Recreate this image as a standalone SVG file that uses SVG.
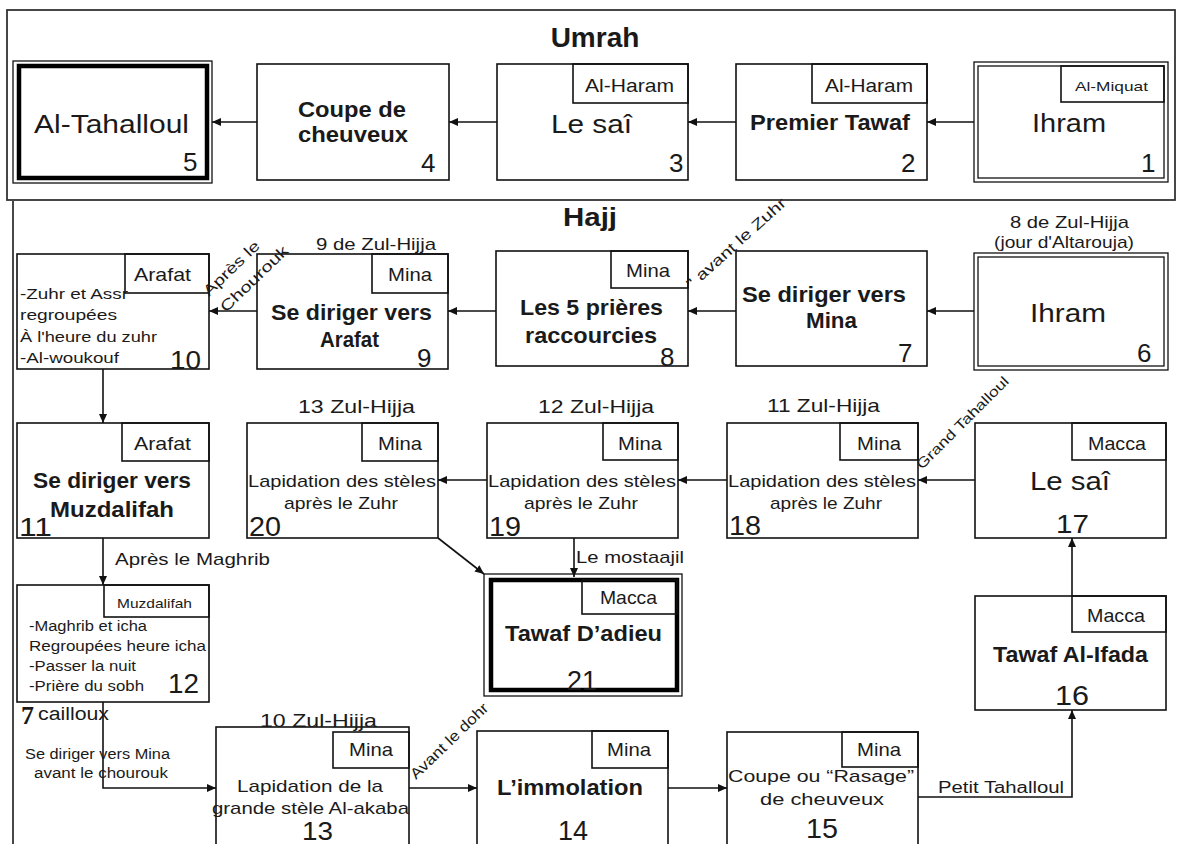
<svg xmlns="http://www.w3.org/2000/svg" width="1182" height="844" viewBox="0 0 1182 844">
<style>
text{font-family:"Liberation Sans",Arial,sans-serif;fill:#1a1a1a}
.box{fill:#fff;stroke:#111;stroke-width:1.6}
.tag{fill:none;stroke:#111;stroke-width:1.6}
.thin{fill:none;stroke:#111;stroke-width:1.3}
.thick{fill:none;stroke:#000;stroke-width:4.5}
.frame{fill:none;stroke:#333;stroke-width:1.8}
.big{font-size:26px}
.b{font-size:22px;font-weight:bold}
.t{font-size:19px}
.n{font-size:26px}
.s{font-size:14px}
.m{font-size:17px}
.conn path{fill:none;stroke:#111;stroke-width:1.6;marker-end:url(#ah)}
</style>
<defs>
<marker id="ah" markerUnits="userSpaceOnUse" markerWidth="9" markerHeight="8" refX="9" refY="4" orient="auto">
<path d="M0,0 L9,4 L0,8 z" fill="#111"/>
</marker>
</defs>
<rect width="1182" height="844" fill="#fff"/>

<g id="frames">
<rect class="frame" x="7" y="10" width="1168" height="190"/>
<path class="frame" d="M13,844 V201"/>
<text x="595" y="47" text-anchor="middle" style="font-size:28px;font-weight:bold">Umrah</text>
<text x="563" y="226" style="font-size:26px;font-weight:bold" textLength="54" lengthAdjust="spacingAndGlyphs">Hajj</text>
</g>

<g class="conn" id="connectors">
<path d="M974,122 H927"/>
<path d="M736,122 H688"/>
<path d="M497,122 H449"/>
<path d="M257,122 H212"/>
<path d="M974,311 H927"/>
<path d="M736,311 H688"/>
<path d="M496,311 H448"/>
<path d="M257,311 H209"/>
<path d="M103,369 V423"/>
<path d="M975,480 H918"/>
<path d="M727,480 H678"/>
<path d="M487,480 H438"/>
<path d="M103,538 V585"/>
<path d="M103,702 V788 H216"/>
<path d="M409,788 H477"/>
<path d="M668,788 H727"/>
<path d="M918,797 H1072 V710"/>
<path d="M1072,596 V538"/>
<path d="M438,538 L484,574"/>
<path d="M574,538 V577"/>
</g>

<!-- Umrah -->
<g id="n5">
<rect class="thin" x="13" y="61" width="199" height="122" fill="#fff"/>
<rect class="thick" x="19" y="66" width="188" height="112"/>
<text class="big" x="34" y="133" textLength="155" lengthAdjust="spacingAndGlyphs">Al-Tahalloul</text>
<text class="n" x="183" y="171">5</text>
</g>
<g id="n4">
<rect class="box" x="257" y="64" width="192" height="116"/>
<text class="b" x="298" y="117" textLength="108" lengthAdjust="spacingAndGlyphs">Coupe de</text>
<text class="b" x="298" y="142" textLength="110" lengthAdjust="spacingAndGlyphs">cheuveux</text>
<text class="n" x="421" y="172">4</text>
</g>
<g id="n3">
<rect class="box" x="497" y="64" width="191" height="116"/>
<rect class="tag" x="573" y="64" width="115" height="39"/>
<text class="t" x="585" y="92" textLength="89" lengthAdjust="spacingAndGlyphs">Al-Haram</text>
<text class="big" x="551" y="133" textLength="81" lengthAdjust="spacingAndGlyphs">Le saî</text>
<text class="n" x="669" y="172">3</text>
</g>
<g id="n2">
<rect class="box" x="736" y="64" width="191" height="116"/>
<rect class="tag" x="812" y="64" width="115" height="39"/>
<text class="t" x="825" y="92" textLength="88" lengthAdjust="spacingAndGlyphs">Al-Haram</text>
<text class="b" x="750" y="130" textLength="160" lengthAdjust="spacingAndGlyphs">Premier Tawaf</text>
<text class="n" x="901" y="172">2</text>
</g>
<g id="n1">
<rect class="thin" x="974" y="62" width="194" height="120" fill="#fff"/>
<rect class="thin" x="978" y="66" width="186" height="112"/>
<rect class="tag" x="1061" y="66" width="103" height="36"/>
<text x="1075" y="91" style="font-size:13px" textLength="73" lengthAdjust="spacingAndGlyphs">Al-Miquat</text>
<text class="big" x="1032" y="132" textLength="74" lengthAdjust="spacingAndGlyphs">Ihram</text>
<text class="n" x="1141" y="172">1</text>
</g>

<!-- Hajj row 1 -->
<g id="n6">
<text class="m" x="1010" y="228" textLength="119" lengthAdjust="spacingAndGlyphs">8 de Zul-Hijja</text>
<text class="m" x="994" y="248" textLength="140" lengthAdjust="spacingAndGlyphs">(jour d'Altarouja)</text>
<rect class="thin" x="974" y="253" width="194" height="117" fill="#fff"/>
<rect class="thin" x="978" y="257" width="186" height="109"/>
<text class="big" x="1030" y="322" textLength="76" lengthAdjust="spacingAndGlyphs">Ihram</text>
<text class="n" x="1137" y="362">6</text>
</g>
<g id="n7">
<rect class="box" x="736" y="251" width="191" height="115"/>
<text class="b" x="742" y="302" textLength="164" lengthAdjust="spacingAndGlyphs">Se diriger vers</text>
<text class="b" x="806" y="328" textLength="51" lengthAdjust="spacingAndGlyphs">Mina</text>
<text class="n" x="898" y="362">7</text>
</g>
<g id="n8">
<rect class="box" x="496" y="251" width="192" height="115"/>
<rect class="tag" x="611" y="251" width="77" height="37"/>
<text class="t" x="626" y="277" textLength="44" lengthAdjust="spacingAndGlyphs">Mina</text>
<text class="b" x="520" y="315" textLength="143" lengthAdjust="spacingAndGlyphs">Les 5 prières</text>
<text class="b" x="525" y="343" textLength="132" lengthAdjust="spacingAndGlyphs">raccourcies</text>
<text class="n" x="660" y="366">8</text>
</g>
<g id="n9">
<text class="m" x="316" y="250" textLength="120" lengthAdjust="spacingAndGlyphs">9 de Zul-Hijja</text>
<rect class="box" x="257" y="254" width="191" height="115"/>
<rect class="tag" x="372" y="254" width="76" height="39"/>
<text class="t" x="388" y="281" textLength="44" lengthAdjust="spacingAndGlyphs">Mina</text>
<text class="b" x="271" y="320" textLength="161" lengthAdjust="spacingAndGlyphs">Se diriger vers</text>
<text class="b" x="320" y="347" textLength="59" lengthAdjust="spacingAndGlyphs">Arafat</text>
<text class="n" x="417" y="367">9</text>
</g>
<g id="n10">
<rect class="box" x="17" y="254" width="192" height="115"/>
<rect class="tag" x="125" y="254" width="84" height="39"/>
<text class="t" x="134" y="281" textLength="57" lengthAdjust="spacingAndGlyphs">Arafat</text>
<text class="s" x="20" y="299" textLength="108" lengthAdjust="spacingAndGlyphs">-Zuhr et Assr</text>
<text class="s" x="20" y="320" textLength="97" lengthAdjust="spacingAndGlyphs">regroupées</text>
<text class="s" x="20" y="342" textLength="137" lengthAdjust="spacingAndGlyphs">À l'heure du zuhr</text>
<text class="s" x="20" y="363" textLength="99" lengthAdjust="spacingAndGlyphs">-Al-woukouf</text>
<text class="n" x="170" y="369" textLength="31" lengthAdjust="spacingAndGlyphs">10</text>
</g>

<!-- Hajj row 2 -->
<g id="n11">
<rect class="box" x="17" y="423" width="192" height="115"/>
<rect class="tag" x="122" y="423" width="87" height="38"/>
<text class="t" x="134" y="450" textLength="57" lengthAdjust="spacingAndGlyphs">Arafat</text>
<text class="b" x="33" y="488" textLength="158" lengthAdjust="spacingAndGlyphs">Se diriger vers</text>
<text class="b" x="50" y="517" textLength="124" lengthAdjust="spacingAndGlyphs">Muzdalifah</text>
<text class="n" x="19" y="536" textLength="33" lengthAdjust="spacingAndGlyphs">11</text>
</g>
<g id="n20">
<text class="t" x="298" y="413" textLength="117" lengthAdjust="spacingAndGlyphs">13 Zul-Hijja</text>
<rect class="box" x="247" y="423" width="191" height="115"/>
<rect class="tag" x="362" y="423" width="76" height="38"/>
<text class="t" x="378" y="450" textLength="44" lengthAdjust="spacingAndGlyphs">Mina</text>
<text class="m" x="248" y="487" textLength="188" lengthAdjust="spacingAndGlyphs">Lapidation des stèles</text>
<text class="m" x="284" y="509" textLength="114" lengthAdjust="spacingAndGlyphs">après le Zuhr</text>
<text class="n" x="249" y="536" style="font-size:28px" textLength="32" lengthAdjust="spacingAndGlyphs">20</text>
</g>
<g id="n19">
<text class="t" x="538" y="413" textLength="116" lengthAdjust="spacingAndGlyphs">12 Zul-Hijja</text>
<rect class="box" x="487" y="423" width="191" height="115"/>
<rect class="tag" x="603" y="423" width="75" height="37"/>
<text class="t" x="618" y="450" textLength="44" lengthAdjust="spacingAndGlyphs">Mina</text>
<text class="m" x="488" y="487" textLength="188" lengthAdjust="spacingAndGlyphs">Lapidation des stèles</text>
<text class="m" x="524" y="509" textLength="114" lengthAdjust="spacingAndGlyphs">après le Zuhr</text>
<text class="n" x="489" y="536" style="font-size:28px" textLength="32" lengthAdjust="spacingAndGlyphs">19</text>
</g>
<g id="n18">
<text class="t" x="767" y="412" textLength="113" lengthAdjust="spacingAndGlyphs">11 Zul-Hijja</text>
<rect class="box" x="727" y="423" width="191" height="115"/>
<rect class="tag" x="840" y="423" width="78" height="37"/>
<text class="t" x="857" y="450" textLength="44" lengthAdjust="spacingAndGlyphs">Mina</text>
<text class="m" x="728" y="487" textLength="188" lengthAdjust="spacingAndGlyphs">Lapidation des stèles</text>
<text class="m" x="770" y="509" textLength="112" lengthAdjust="spacingAndGlyphs">après le Zuhr</text>
<text class="n" x="729" y="535" style="font-size:28px" textLength="32" lengthAdjust="spacingAndGlyphs">18</text>
</g>
<g id="n17">
<rect class="box" x="975" y="423" width="191" height="115"/>
<rect class="tag" x="1072" y="423" width="94" height="37"/>
<text class="t" x="1088" y="450" textLength="58" lengthAdjust="spacingAndGlyphs">Macca</text>
<text class="big" x="1030" y="490" textLength="80" lengthAdjust="spacingAndGlyphs">Le saî</text>
<text class="n" x="1056" y="533" textLength="33" lengthAdjust="spacingAndGlyphs">17</text>
</g>

<!-- lower part -->
<g id="n12">
<rect class="box" x="17" y="585" width="192" height="117"/>
<rect class="tag" x="104" y="585" width="105" height="32"/>
<text x="117" y="608" style="font-size:13px" textLength="75" lengthAdjust="spacingAndGlyphs">Muzdalifah</text>
<text class="s" x="29" y="631" textLength="118" lengthAdjust="spacingAndGlyphs">-Maghrib et icha</text>
<text class="s" x="29" y="651" textLength="177" lengthAdjust="spacingAndGlyphs">Regroupées heure icha</text>
<text class="s" x="29" y="671" textLength="107" lengthAdjust="spacingAndGlyphs">-Passer la nuit</text>
<text class="s" x="29" y="691" textLength="115" lengthAdjust="spacingAndGlyphs">-Prière du sobh</text>
<text class="n" x="168" y="693" style="font-size:28px" textLength="31" lengthAdjust="spacingAndGlyphs">12</text>
</g>
<g id="n13">
<rect class="box" x="216" y="727" width="193" height="125"/>
<rect class="tag" x="333" y="732" width="76" height="36"/>
<text class="t" x="260" y="727" textLength="117" lengthAdjust="spacingAndGlyphs">10 Zul-Hijja</text>
<text class="t" x="349" y="756" textLength="44" lengthAdjust="spacingAndGlyphs">Mina</text>
<text class="m" x="237" y="792" textLength="146" lengthAdjust="spacingAndGlyphs">Lapidation de la</text>
<text class="m" x="212" y="814" textLength="197" lengthAdjust="spacingAndGlyphs">grande stèle Al-akaba</text>
<text class="n" x="302" y="840" textLength="31" lengthAdjust="spacingAndGlyphs">13</text>
</g>
<g id="n14">
<rect class="box" x="477" y="731" width="191" height="121"/>
<rect class="tag" x="592" y="731" width="76" height="37"/>
<text class="t" x="607" y="756" textLength="44" lengthAdjust="spacingAndGlyphs">Mina</text>
<text class="b" x="497" y="795" textLength="146" lengthAdjust="spacingAndGlyphs">L’immolation</text>
<text class="n" x="558" y="840" style="font-size:28px" textLength="30" lengthAdjust="spacingAndGlyphs">14</text>
</g>
<g id="n15">
<rect class="box" x="727" y="732" width="191" height="120"/>
<rect class="tag" x="842" y="732" width="76" height="35"/>
<text class="t" x="857" y="756" textLength="44" lengthAdjust="spacingAndGlyphs">Mina</text>
<text class="m" x="728" y="782" textLength="186" lengthAdjust="spacingAndGlyphs">Coupe ou “Rasage”</text>
<text class="m" x="760" y="805" textLength="124" lengthAdjust="spacingAndGlyphs">de cheuveux</text>
<text class="n" x="806" y="838" style="font-size:28px" textLength="32" lengthAdjust="spacingAndGlyphs">15</text>
</g>
<g id="n16">
<rect class="box" x="975" y="596" width="191" height="114"/>
<rect class="tag" x="1072" y="596" width="94" height="36"/>
<text class="t" x="1087" y="622" textLength="58" lengthAdjust="spacingAndGlyphs">Macca</text>
<text class="b" x="993" y="662" textLength="155" lengthAdjust="spacingAndGlyphs">Tawaf Al-Ifada</text>
<text class="n" x="1055" y="705" style="font-size:28px" textLength="34" lengthAdjust="spacingAndGlyphs">16</text>
</g>
<g id="n21">
<rect class="thin" x="484" y="574" width="198" height="122" fill="#fff"/>
<rect class="thick" x="491" y="580" width="186" height="110"/>
<rect class="tag" x="582" y="580" width="95" height="34"/>
<text class="t" x="600" y="604" textLength="57" lengthAdjust="spacingAndGlyphs">Macca</text>
<text class="b" x="505" y="641" textLength="157" lengthAdjust="spacingAndGlyphs">Tawaf D’adieu</text>
<text class="n" x="567" y="690" style="font-size:28px" textLength="30" lengthAdjust="spacingAndGlyphs">21</text>
</g>

<g id="conn-labels">
<text class="s" transform="translate(209,297) rotate(-44)" style="font-size:15px" textLength="72" lengthAdjust="spacingAndGlyphs">Après le</text>
<text class="s" transform="translate(226,313) rotate(-44)" style="font-size:15px" textLength="88" lengthAdjust="spacingAndGlyphs">Chourouk</text>
<text class="s" transform="translate(692,290) rotate(-42)" style="font-size:15px" textLength="128" lengthAdjust="spacingAndGlyphs">" avant le Zuhr</text>
<text class="s" transform="translate(922,470) rotate(-45)" textLength="124" lengthAdjust="spacingAndGlyphs">Grand Tahalloul</text>
<text class="s" transform="translate(416,780) rotate(-44)" style="font-size:15px" textLength="102" lengthAdjust="spacingAndGlyphs">Avant le dohr</text>
<text class="m" x="115" y="565" textLength="155" lengthAdjust="spacingAndGlyphs">Après le Maghrib</text>
<text class="m" x="576" y="563" textLength="108" lengthAdjust="spacingAndGlyphs">Le mostaajil</text>
<text class="m" x="938" y="793" style="font-size:16px" textLength="126" lengthAdjust="spacingAndGlyphs">Petit Tahalloul</text>
<text class="s" x="25" y="759" textLength="145" lengthAdjust="spacingAndGlyphs">Se diriger vers Mina</text>
<text class="s" x="34" y="778" textLength="134" lengthAdjust="spacingAndGlyphs">avant le chourouk</text>
<text x="21" y="724" style="font-family:'Liberation Serif','Times New Roman',serif;font-size:26px;font-weight:bold">7</text>
<text x="38" y="720" style="font-size:18px" textLength="71" lengthAdjust="spacingAndGlyphs">cailloux</text>
</g>
</svg>
